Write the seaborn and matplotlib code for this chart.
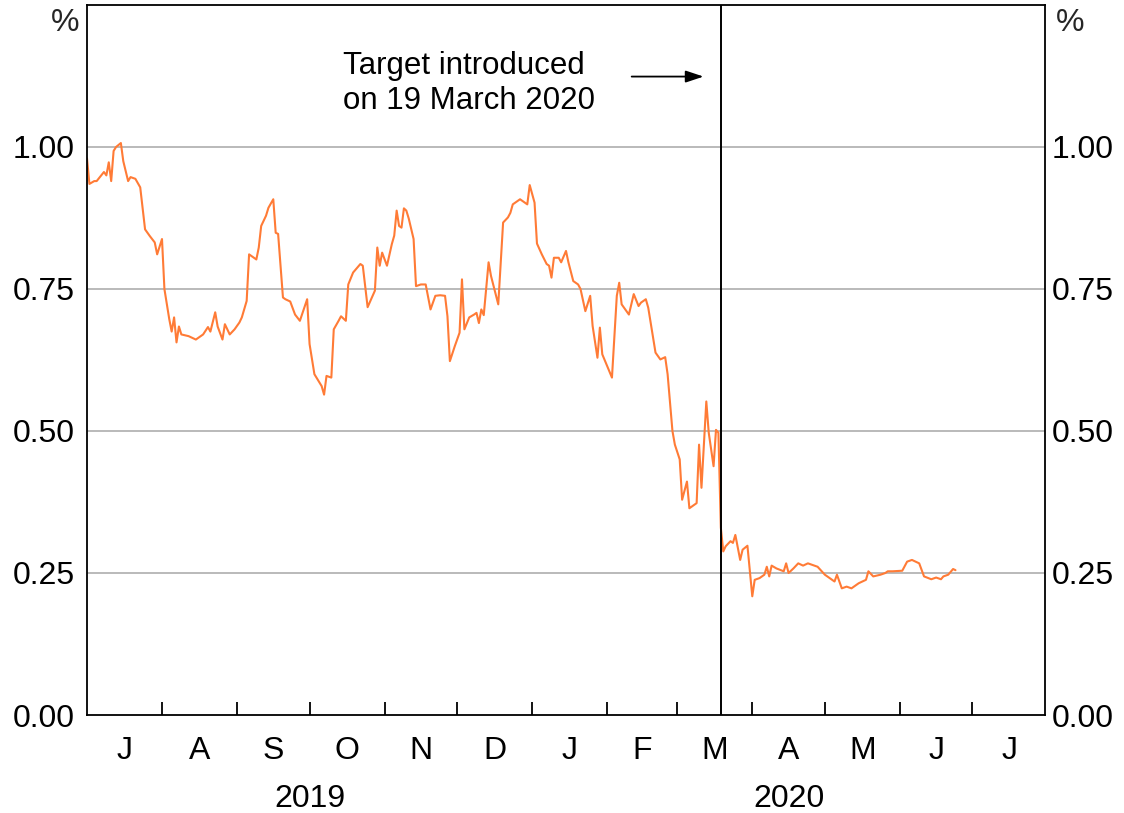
import numpy as np
import pandas as pd
import matplotlib
matplotlib.use("Agg")
import matplotlib.pyplot as plt
import matplotlib.transforms as mtransforms
import seaborn as sns

# ---------------- data ----------------
dates = [
    "2019-07-01", "2019-07-02", "2019-07-04", "2019-07-05", "2019-07-08", "2019-07-09", "2019-07-10",
    "2019-07-11", "2019-07-12", "2019-07-13", "2019-07-15", "2019-07-16", "2019-07-18", "2019-07-19",
    "2019-07-21", "2019-07-23", "2019-07-25", "2019-07-27", "2019-07-29", "2019-07-30",
    "2019-08-01", "2019-08-02", "2019-08-04", "2019-08-05", "2019-08-06", "2019-08-07", "2019-08-08",
    "2019-08-09", "2019-08-12", "2019-08-15", "2019-08-18", "2019-08-20", "2019-08-21", "2019-08-23",
    "2019-08-24", "2019-08-26", "2019-08-27", "2019-08-29", "2019-08-31",
    "2019-09-02", "2019-09-03", "2019-09-05", "2019-09-06", "2019-09-07", "2019-09-09", "2019-09-10",
    "2019-09-11", "2019-09-13", "2019-09-14", "2019-09-16", "2019-09-17", "2019-09-18", "2019-09-20",
    "2019-09-21", "2019-09-23", "2019-09-25", "2019-09-27", "2019-09-30",
    "2019-10-01", "2019-10-03", "2019-10-06", "2019-10-07", "2019-10-08", "2019-10-10", "2019-10-11",
    "2019-10-13", "2019-10-14", "2019-10-16", "2019-10-17", "2019-10-19", "2019-10-22", "2019-10-23",
    "2019-10-25", "2019-10-28", "2019-10-29", "2019-10-30", "2019-10-31",
    "2019-11-02", "2019-11-04", "2019-11-05", "2019-11-06", "2019-11-07", "2019-11-08", "2019-11-09",
    "2019-11-10", "2019-11-11", "2019-11-13", "2019-11-14", "2019-11-16", "2019-11-18", "2019-11-20",
    "2019-11-22", "2019-11-24", "2019-11-26", "2019-11-27", "2019-11-28", "2019-11-30",
    "2019-12-02", "2019-12-03", "2019-12-04", "2019-12-06", "2019-12-08", "2019-12-09", "2019-12-10",
    "2019-12-11", "2019-12-12", "2019-12-14", "2019-12-15", "2019-12-18", "2019-12-20", "2019-12-22",
    "2019-12-23", "2019-12-24", "2019-12-27", "2019-12-28", "2019-12-30", "2019-12-31",
    "2020-01-02", "2020-01-03", "2020-01-05", "2020-01-07", "2020-01-08", "2020-01-09", "2020-01-10",
    "2020-01-12", "2020-01-13", "2020-01-15", "2020-01-16", "2020-01-18", "2020-01-20", "2020-01-21",
    "2020-01-23", "2020-01-25", "2020-01-26", "2020-01-28", "2020-01-29", "2020-01-30",
    "2020-02-03", "2020-02-05", "2020-02-06", "2020-02-07", "2020-02-10", "2020-02-12", "2020-02-14",
    "2020-02-15", "2020-02-17", "2020-02-18", "2020-02-21", "2020-02-23", "2020-02-25", "2020-02-26",
    "2020-02-27", "2020-02-28", "2020-02-29",
    "2020-03-02", "2020-03-03", "2020-03-05", "2020-03-06", "2020-03-09", "2020-03-10", "2020-03-11",
    "2020-03-13", "2020-03-14", "2020-03-16", "2020-03-17", "2020-03-18", "2020-03-19", "2020-03-20",
    "2020-03-21", "2020-03-23", "2020-03-24", "2020-03-25", "2020-03-27", "2020-03-28", "2020-03-30",
    "2020-04-01", "2020-04-02", "2020-04-04", "2020-04-06", "2020-04-07", "2020-04-08", "2020-04-09",
    "2020-04-11", "2020-04-14", "2020-04-15", "2020-04-16", "2020-04-18", "2020-04-20", "2020-04-22",
    "2020-04-24", "2020-04-26", "2020-04-28",
    "2020-05-01", "2020-05-03", "2020-05-05", "2020-05-06", "2020-05-08", "2020-05-10", "2020-05-12",
    "2020-05-15", "2020-05-18", "2020-05-19", "2020-05-21", "2020-05-24", "2020-05-26", "2020-05-27",
    "2020-05-29",
    "2020-06-02", "2020-06-04", "2020-06-06", "2020-06-09", "2020-06-11", "2020-06-14", "2020-06-16",
    "2020-06-18", "2020-06-19", "2020-06-21", "2020-06-23", "2020-06-24",
]
yields = [
    0.980, 0.935, 0.940, 0.940, 0.956, 0.950, 0.973,
    0.940, 0.993, 1.000, 1.007, 0.975, 0.940, 0.947,
    0.944, 0.929, 0.855, 0.843, 0.832, 0.811,
    0.838, 0.750, 0.697, 0.675, 0.700, 0.656, 0.684,
    0.670, 0.667, 0.661, 0.670, 0.683, 0.675, 0.709,
    0.684, 0.661, 0.688, 0.670, 0.679,
    0.691, 0.700, 0.729, 0.811, 0.808, 0.802, 0.823,
    0.861, 0.879, 0.893, 0.908, 0.849, 0.847, 0.735,
    0.732, 0.728, 0.705, 0.694, 0.732,
    0.653, 0.600, 0.579, 0.564, 0.597, 0.594, 0.679,
    0.694, 0.702, 0.694, 0.758, 0.779, 0.794, 0.791,
    0.718, 0.747, 0.823, 0.791, 0.814,
    0.791, 0.829, 0.844, 0.888, 0.861, 0.858, 0.892,
    0.888, 0.874, 0.838, 0.755, 0.758, 0.758, 0.714,
    0.738, 0.739, 0.738, 0.702, 0.623, 0.649,
    0.673, 0.767, 0.679, 0.700, 0.705, 0.708, 0.690,
    0.714, 0.704, 0.797, 0.773, 0.723, 0.867, 0.876,
    0.884, 0.899, 0.908, 0.905, 0.899, 0.933,
    0.902, 0.830, 0.811, 0.794, 0.791, 0.770, 0.805,
    0.805, 0.797, 0.817, 0.797, 0.764, 0.758, 0.750,
    0.711, 0.738, 0.685, 0.629, 0.682, 0.635,
    0.594, 0.738, 0.761, 0.723, 0.705, 0.741, 0.720,
    0.726, 0.732, 0.717, 0.638, 0.626, 0.630, 0.600,
    0.550, 0.500, 0.476,
    0.450, 0.379, 0.411, 0.364, 0.373, 0.476, 0.400,
    0.552, 0.497, 0.438, 0.502, 0.497, 0.330, 0.288,
    0.297, 0.306, 0.303, 0.317, 0.273, 0.291, 0.298,
    0.209, 0.238, 0.241, 0.247, 0.261, 0.244, 0.263,
    0.258, 0.253, 0.267, 0.250, 0.258, 0.267, 0.263,
    0.267, 0.264, 0.261,
    0.247, 0.241, 0.235, 0.247, 0.223, 0.226, 0.223,
    0.232, 0.238, 0.253, 0.244, 0.247, 0.250, 0.253,
    0.253,
    0.254, 0.270, 0.273, 0.267, 0.244, 0.239, 0.242,
    0.239, 0.244, 0.247, 0.257, 0.255,
]
month_labels = ["J", "A", "S", "O", "N", "D", "J", "F", "M", "A", "M", "J", "J"]
year_labels = ["2019", "2020"]
y_ticks = [0.00, 0.25, 0.50, 0.75, 1.00]
event_date = "2020-03-19"
annotation_text = "Target introduced\non 19 March 2020"
unit_label = "%"

# ---------------- style ----------------
sns.set_theme(style="white")
plt.rcParams["font.family"] = ["Liberation Sans", "DejaVu Sans"]

FS = 23
W, H = 1124, 813
fig = plt.figure(figsize=(W / 100, H / 100), dpi=100)
L, R, T, B = 87, 1045, 5, 715
ax = fig.add_axes([L / W, 1 - B / H, (R - L) / W, (B - T) / H])

df = pd.DataFrame({"date": pd.to_datetime(dates), "yield": yields})
sns.lineplot(data=df, x="date", y="yield", ax=ax, color="#ff7b36", lw=1.5)

x0, x1 = pd.Timestamp("2019-07-01"), pd.Timestamp("2020-07-31")
ax.set_xlim(x0, x1)
ax.set_ylim(0, 1.25)
ax.set_xlabel("")
ax.set_ylabel("")

# grid
for y in y_ticks[1:]:
    ax.axhline(y, color="#b4b4b4", lw=1.3, zorder=0)

# spines
for s in ax.spines.values():
    s.set_color("black")
    s.set_linewidth(1.3)
    s.set_visible(True)

# x ticks: month starts (marks), mid-months (labels)
month_starts = pd.date_range("2019-07-01", "2020-08-01", freq="MS")
ax.set_xticks(month_starts[1:-1])
ax.set_xticklabels([])
ax.tick_params(axis="x", which="major", direction="in", length=9.5, width=1.3,
               color="black", bottom=True, top=False)
mids = [month_starts[i] + (month_starts[i + 1] - month_starts[i]) / 2 for i in range(len(month_starts) - 1)]
ax.set_xticks(mids, minor=True)
ax.set_xticklabels(month_labels, minor=True)
ax.tick_params(axis="x", which="minor", length=0, pad=15, labelsize=FS, labelcolor="black")

# years
trans = mtransforms.blended_transform_factory(ax.transData, ax.transAxes)
year_spans = [(pd.Timestamp("2019-07-01"), pd.Timestamp("2020-01-01")),
              (pd.Timestamp("2020-01-01"), pd.Timestamp("2020-07-31"))]
for lab, (a, b) in zip(year_labels, year_spans):
    ax.text(a + (b - a) / 2, -0.118, lab, transform=trans, ha="center", va="center",
            fontsize=FS, color="black")

# y ticks both sides
ax.set_yticks(y_ticks)
ax.set_yticklabels([f"{v:.2f}" for v in y_ticks])
ax.tick_params(axis="y", length=0, pad=9, labelsize=FS, labelcolor="black")
ax2 = ax.twinx()
ax2.set_ylim(0, 1.25)
ax2.set_yticks(y_ticks)
ax2.set_yticklabels([f"{v:.2f}" for v in y_ticks])
ax2.tick_params(axis="y", length=0, pad=5, labelsize=FS, labelcolor="black")
for s in ax2.spines.values():
    s.set_visible(False)
ax2.grid(False)

fig.text(65 / W, 1 - 23 / H, unit_label, ha="center", va="center", fontsize=FS)
fig.text(1070 / W, 1 - 23 / H, unit_label, ha="center", va="center", fontsize=FS)

# event line
ax.axvline(pd.Timestamp(event_date), color="black", lw=1.4, ymin=0, ymax=1, zorder=3)

# annotation
ax.text(pd.Timestamp("2019-10-15"), 1.112, annotation_text, ha="left", va="center",
        fontsize=22.5, linespacing=1.2, color="black")
ax.annotate("", xy=(pd.Timestamp("2020-03-13"), 1.124), xytext=(pd.Timestamp("2020-02-10"), 1.124),
            arrowprops=dict(arrowstyle="-|>,head_length=0.9,head_width=0.3", color="black", lw=1.3))

fig.savefig("out.png", dpi=100)
